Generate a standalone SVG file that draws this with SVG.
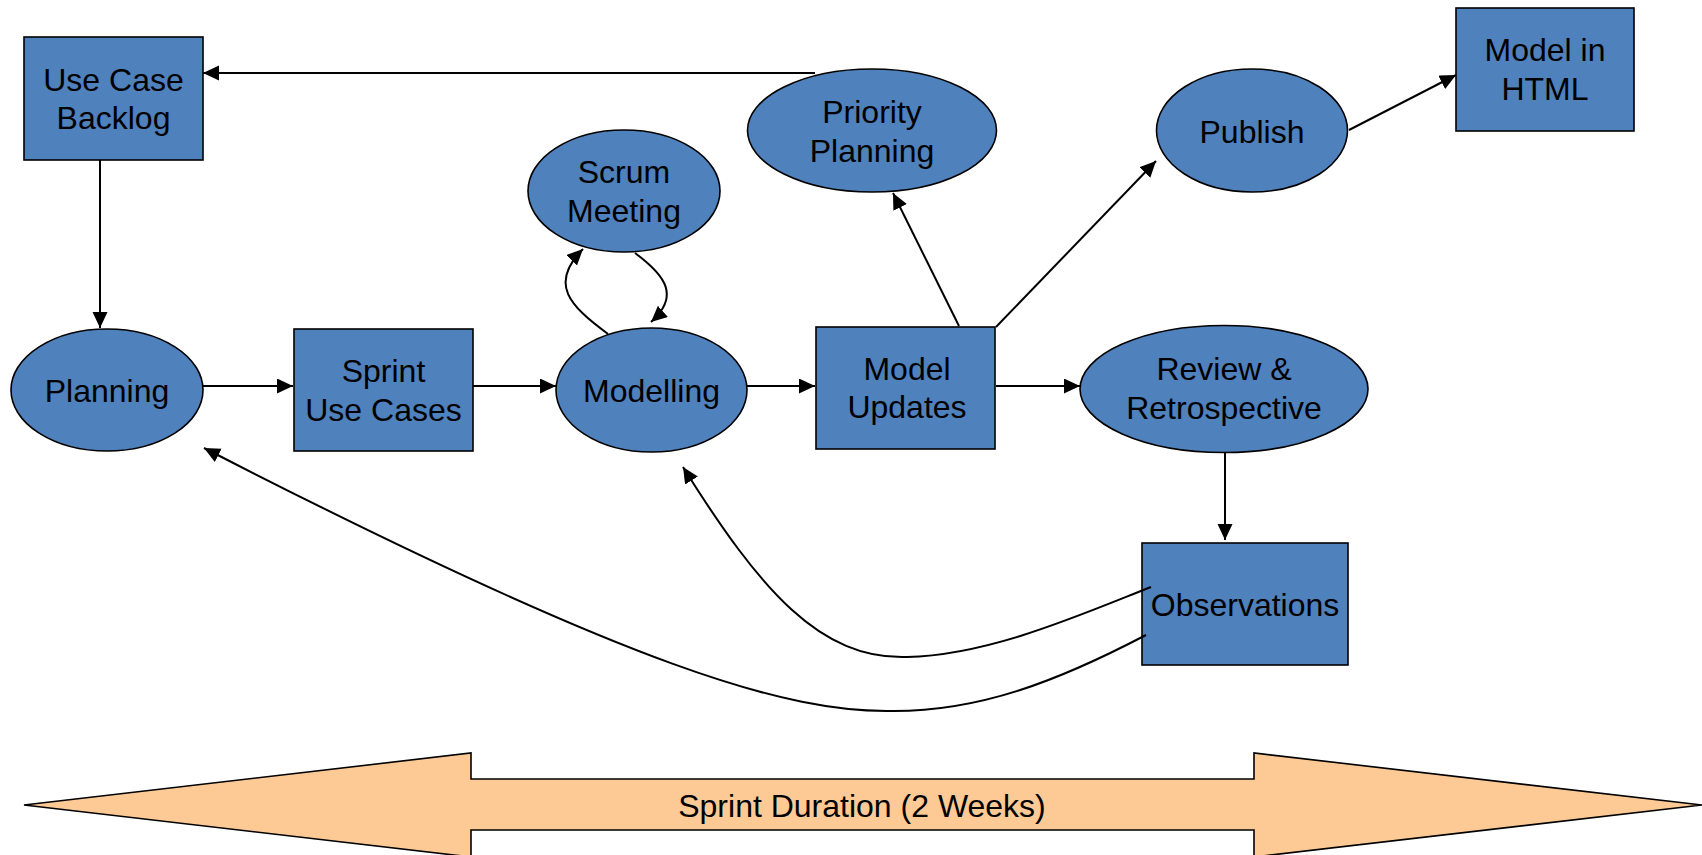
<svg xmlns="http://www.w3.org/2000/svg" width="1702" height="855" viewBox="0 0 1702 855">
  <style>
    .node { fill: #4F81BD; stroke: #000; stroke-width: 1.6; }
    .label { font-family: "Liberation Sans", Arial, sans-serif; font-size: 32px; fill: #000; text-anchor: middle; }
    .edge { fill: none; stroke: #000; stroke-width: 2; marker-end: url(#arrow); }
    .span { fill: #FDCA96; stroke: #000; stroke-width: 1.6; }
  </style>
  <defs>
    <marker id="arrow" markerUnits="userSpaceOnUse" markerWidth="17" markerHeight="16" refX="16" refY="7.5" orient="auto">
      <path d="M0,0 L16,7.5 L0,15 z" fill="#000"/>
    </marker>
  </defs>
  <rect width="1702" height="855" fill="#fff"/>

  <!-- Sprint duration banner -->
  <g id="sprint-duration">
    <path class="span" d="M24,805 L471,753 L471,779 L1254,779 L1254,753 L1702,805 L1254,857 L1254,830 L471,830 L471,857 Z"/>
    <text class="label" x="862" y="817">Sprint Duration (2 Weeks)</text>
  </g>

  <g id="use-case-backlog">
    <rect class="node" x="24" y="37" width="179" height="123"/>
    <text class="label" x="113.5" y="91">Use Case</text>
    <text class="label" x="113.5" y="129">Backlog</text>
  </g>

  <g id="planning">
    <ellipse class="node" cx="107" cy="390" rx="96" ry="61"/>
    <text class="label" x="107" y="402">Planning</text>
  </g>

  <g id="sprint-use-cases">
    <rect class="node" x="294" y="329" width="179" height="122"/>
    <text class="label" x="383.5" y="382">Sprint</text>
    <text class="label" x="383.5" y="421">Use Cases</text>
  </g>

  <g id="scrum-meeting">
    <ellipse class="node" cx="624" cy="191" rx="96" ry="61"/>
    <text class="label" x="624" y="183">Scrum</text>
    <text class="label" x="624" y="222">Meeting</text>
  </g>

  <g id="modelling">
    <ellipse class="node" cx="651.5" cy="390" rx="95.5" ry="62"/>
    <text class="label" x="651.5" y="402">Modelling</text>
  </g>

  <g id="priority-planning">
    <ellipse class="node" cx="872" cy="130.5" rx="124.5" ry="61.5"/>
    <text class="label" x="872" y="123">Priority</text>
    <text class="label" x="872" y="162">Planning</text>
  </g>

  <g id="model-updates">
    <rect class="node" x="816" y="327" width="179" height="122"/>
    <text class="label" x="907" y="380">Model</text>
    <text class="label" x="907" y="418">Updates</text>
  </g>

  <g id="publish">
    <ellipse class="node" cx="1252" cy="130.5" rx="95.5" ry="61.5"/>
    <text class="label" x="1252" y="143">Publish</text>
  </g>

  <g id="model-in-html">
    <rect class="node" x="1456" y="8" width="178" height="123"/>
    <text class="label" x="1545" y="61">Model in</text>
    <text class="label" x="1545" y="100">HTML</text>
  </g>

  <g id="review-retrospective">
    <ellipse class="node" cx="1224" cy="389" rx="144" ry="63.5"/>
    <text class="label" x="1224" y="380">Review &amp;</text>
    <text class="label" x="1224" y="419">Retrospective</text>
  </g>

  <g id="observations">
    <rect class="node" x="1142" y="543" width="206" height="122"/>
    <text class="label" x="1245" y="616">Observations</text>
  </g>

  <!-- connectors -->
  <g id="connectors">
    <path class="edge" d="M815,73 L203,73"/>
    <path class="edge" d="M100,160 L100,328"/>
    <path class="edge" d="M203,386 L293,386"/>
    <path class="edge" d="M473,386 L556,386"/>
    <path class="edge" d="M747,386 L815,386"/>
    <path class="edge" d="M996,386 L1080,386"/>
    <path class="edge" d="M608,334 C570,306 548,284 583,249"/>
    <path class="edge" d="M635,253 C666,276 680,296 651,322"/>
    <path class="edge" d="M959,326 L893,193"/>
    <path class="edge" d="M996,327 L1156,161"/>
    <path class="edge" d="M1349,130 L1456,75"/>
    <path class="edge" d="M1225,453 L1225,540"/>
    <path class="edge" d="M1151,587 C1080,615 990,655 907,657 C820,660 760,590 683,467"/>
    <path class="edge" d="M1146,635 C1060,680 980,712 890,711 C790,712 640,672 204,448"/>
  </g>
</svg>
